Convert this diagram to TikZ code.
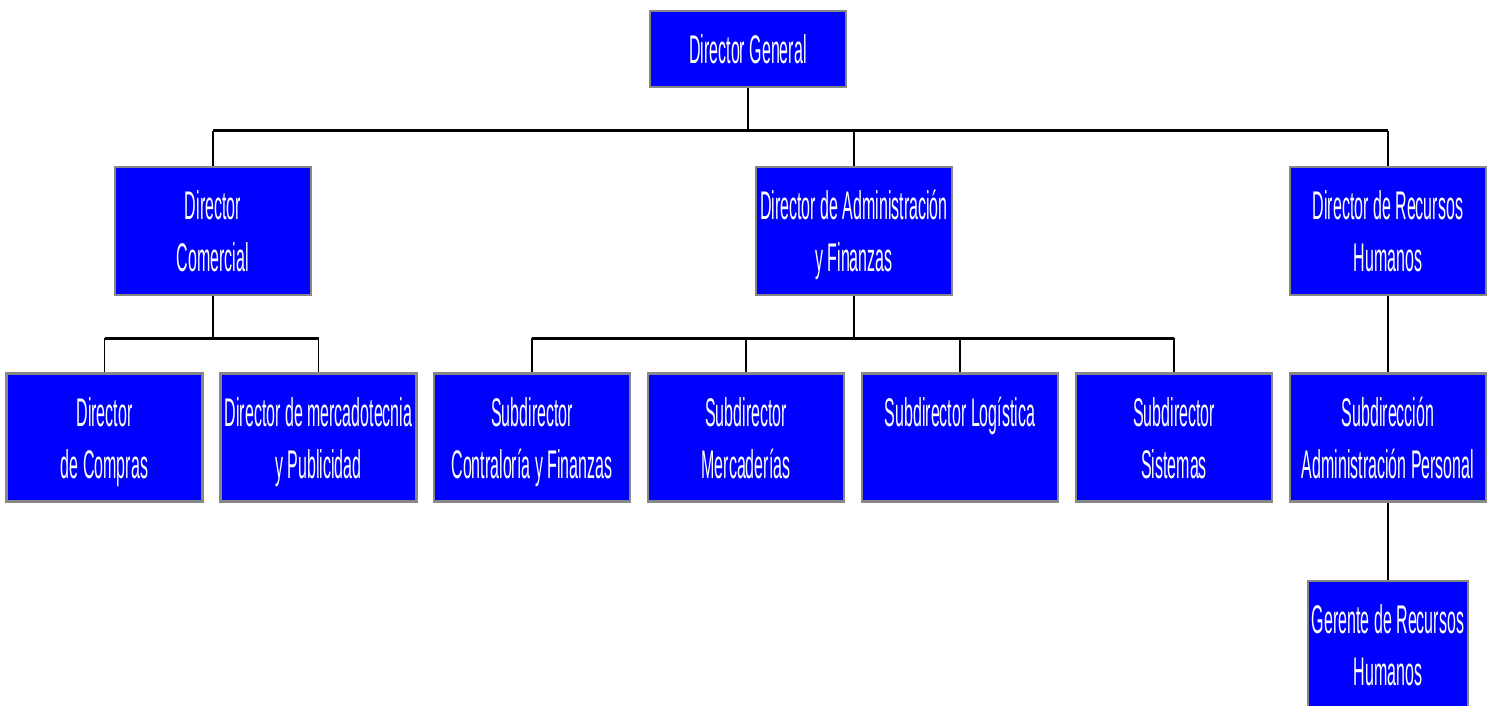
\documentclass[tikz,border=0pt]{standalone}
\usepackage{fontspec}
\usepackage{xcolor}
\usepackage{tikz}
\usetikzlibrary{shapes,arrows,positioning}

\newfontfamily\orgfont{Liberation Sans}[FakeStretch=0.4]
\definecolor{boxblue}{RGB}{0,0,255}
\definecolor{boxrim}{RGB}{135,135,135}
\newcommand{\orgtop}{\rule{0pt}{38pt}}

\tikzset{
    orgbox/.style={
        draw=boxrim,
        line width=2.5pt,
        fill=boxblue,
        text=white,
        align=center,
        inner sep=0pt,
        font=\orgfont\fontsize{40}{52}\selectfont,
        execute at end node={\rule[-9pt]{0pt}{9pt}},
        minimum width=196pt,
        minimum height=128pt
    },
    bus/.style={
        -,
        line width=3pt
    },
    drop/.style={
        -,
        line width=1.5pt
    }
}

\begin{document}
\begin{tikzpicture}[x=1pt,y=-1pt]
                \useasboundingbox (0,0) rectangle (1491,706);

                % top
                \node[orgbox, minimum height=76pt] (gen) at (748,49) {\orgtop Director General};

                % second row
                \node[orgbox] (com) at (213,231) {\orgtop Director\\Comercial};
                \node[orgbox] (adm) at (854,231) {\orgtop Director de Administración\\y Finanzas};
                \node[orgbox] (rrhh) at (1388,231) {\orgtop Director de Recursos\\Humanos};

                % third row
                \node[orgbox] (compras) at (104.5,437.5) {\orgtop Director\\de Compras};
                \node[orgbox] (merca) at (318.5,437.5) {\orgtop Director de mercadotecnia\\y Publicidad};
                \node[orgbox] (contra) at (532,437.5) {\orgtop Subdirector\\Contraloría y Finanzas};
                \node[orgbox] (mercad) at (746,437.5) {\orgtop Subdirector\\Mercaderías};
                \node[orgbox] (logis) at (960,437.5) {\orgtop Subdirector Logística\\\mbox{}};
                \node[orgbox] (siste) at (1174,437.5) {\orgtop Subdirector\\Sistemas};
                \node[orgbox] (perso) at (1388,437.5) {\orgtop Subdirección\\Administración Personal};

                % last one
                \node[orgbox, minimum width=160pt] (geren) at (1388,645) {\orgtop Gerente de Recursos\\Humanos};

                % bus levels
                \coordinate (busA) at (748,131);
                \coordinate (busB) at (213,338);
                \coordinate (busC) at (854,338);

                \draw[drop] (gen.south) to (busA);
                \draw[bus] (com.north |- busA) to (rrhh.north |- busA);
                \draw[drop] (com.north |- busA) to (com.north);
                \draw[drop] (adm.north |- busA) to (adm.north);
                \draw[drop] (rrhh.north |- busA) to (rrhh.north);

                \draw[drop] (com.south) to (busB);
                \draw[bus] (compras.north |- busB) to (merca.north |- busB);
                \draw[drop] (compras.north |- busB) to (compras.north);
                \draw[drop] (merca.north |- busB) to (merca.north);

                \draw[drop] (adm.south) to (busC);
                \draw[bus] (contra.north |- busC) to (siste.north |- busC);
                \draw[drop] (contra.north |- busC) to (contra.north);
                \draw[drop] (mercad.north |- busC) to (mercad.north);
                \draw[drop] (logis.north |- busC) to (logis.north);
                \draw[drop] (siste.north |- busC) to (siste.north);

                \draw[drop] (rrhh.south) to (perso.north);
                \draw[drop] (perso.south) to (geren.north);

\end{tikzpicture}
\end{document}
